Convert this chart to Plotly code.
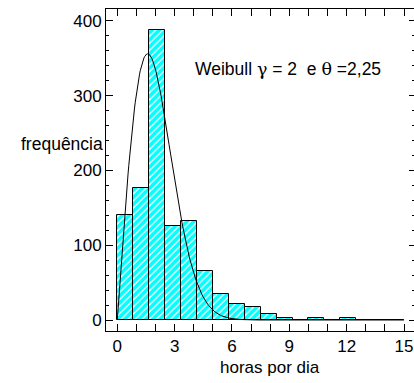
import numpy as np
import plotly.graph_objects as go

# ---- data ----
bin_edges = [0, 0.8333, 1.6667, 2.5, 3.3333, 4.1667, 5, 5.8333, 6.6667, 7.5,
             8.3333, 9.1667, 10, 10.8333, 11.6667, 12.5, 13.3333, 14.1667, 15]
counts = [141, 177, 388, 126, 133, 66, 35, 21, 17, 8, 3, 0, 3, 0, 3, 0, 0, 0]
weibull_gamma = 2.0      # shape
weibull_theta = 2.25     # scale
x_ticks = [0, 3, 6, 9, 12, 15]
y_ticks = [0, 100, 200, 300, 400]

FONT = "Arial, Liberation Sans, sans-serif"

centers = [(a + b) / 2 for a, b in zip(bin_edges[:-1], bin_edges[1:])]
widths = [b - a for a, b in zip(bin_edges[:-1], bin_edges[1:])]

# fitted Weibull density scaled to the histogram (parameters given in the chart)
n_total = sum(counts)
bw = widths[0]
xc = np.linspace(0, 15, 400)
yc = n_total * bw * (weibull_gamma / weibull_theta) * (xc / weibull_theta) ** (weibull_gamma - 1) \
     * np.exp(-(xc / weibull_theta) ** weibull_gamma)

fig = go.Figure()
fig.add_trace(go.Bar(
    x=centers, y=counts, width=widths,
    marker=dict(
        color="#00FFFF",
        line=dict(color="black", width=1),
        pattern=dict(shape="/", fillmode="replace", bgcolor="#00FFFF",
                     fgcolor="white", size=5, solidity=0.28),
    ),
    showlegend=False, hoverinfo="skip",
))
fig.add_trace(go.Scatter(
    x=xc, y=yc, mode="lines", line=dict(color="black", width=1),
    showlegend=False, hoverinfo="skip",
))
# invisible trace for the right-hand tick axis
fig.add_trace(go.Scatter(x=[0], y=[0], yaxis="y2", mode="markers",
                         marker=dict(opacity=0), showlegend=False, hoverinfo="skip"))

yr = [-14.7, 416]
fig.update_layout(
    width=414, height=383,
    margin=dict(l=106, r=0, t=9, b=52, autoexpand=False),
    paper_bgcolor="white", plot_bgcolor="white",
    font=dict(family=FONT, size=16, color="black"),
    bargap=0,
    xaxis=dict(
        range=[-0.59, 15.52], tickvals=x_ticks, ticktext=[str(v) for v in x_ticks],
        ticks="inside", ticklen=7, tickwidth=1, tickcolor="black",
        showline=True, linecolor="black", linewidth=1, mirror="allticks",
        showgrid=False, zeroline=False, automargin=False,
        minor=dict(dtick=1, tick0=0, ticks="inside", ticklen=3, tickcolor="black", showgrid=False),
        tickfont=dict(size=17),
    ),
    yaxis=dict(
        range=yr, tickvals=y_ticks, ticktext=[str(v) for v in y_ticks],
        ticks="inside", ticklen=7, tickwidth=1, tickcolor="black",
        showline=True, linecolor="black", linewidth=1,
        showgrid=False, zeroline=False, automargin=False,
        minor=dict(dtick=20, tick0=0, ticks="inside", ticklen=3, tickcolor="black", showgrid=False),
        tickfont=dict(size=17),
    ),
    yaxis2=dict(
        range=yr, overlaying="y", side="right", tickvals=y_ticks,
        showticklabels=False, ticks="inside", ticklen=5, tickcolor="black",
        showline=False, showgrid=False, zeroline=False, automargin=False,
        minor=dict(dtick=20, tick0=0, ticks="inside", ticklen=2, tickcolor="black", showgrid=False),
    ),
    annotations=[
        dict(text="Weibull <span style='font-family:DejaVu Serif'>γ</span> = 2  e "
                  "<span style='font-family:DejaVu Serif'>θ</span> =2,25",
             x=3.95, y=336, xref="x", yref="y", xanchor="left", yanchor="middle",
             showarrow=False, font=dict(size=17.5)),
        dict(text="frequência", x=0, y=236, xref="paper", yref="y",
             xanchor="right", yanchor="middle", xshift=-1, showarrow=False,
             font=dict(size=17.5)),
        dict(text="horas por dia", x=8.0, y=0, xref="x", yref="paper",
             xanchor="center", yanchor="middle", yshift=-36, showarrow=False,
             font=dict(size=17)),
    ],
)

fig.write_html("out.html", config={"displayModeBar": False},
               post_script="document.body.style.margin='0';document.body.style.padding='0';")
